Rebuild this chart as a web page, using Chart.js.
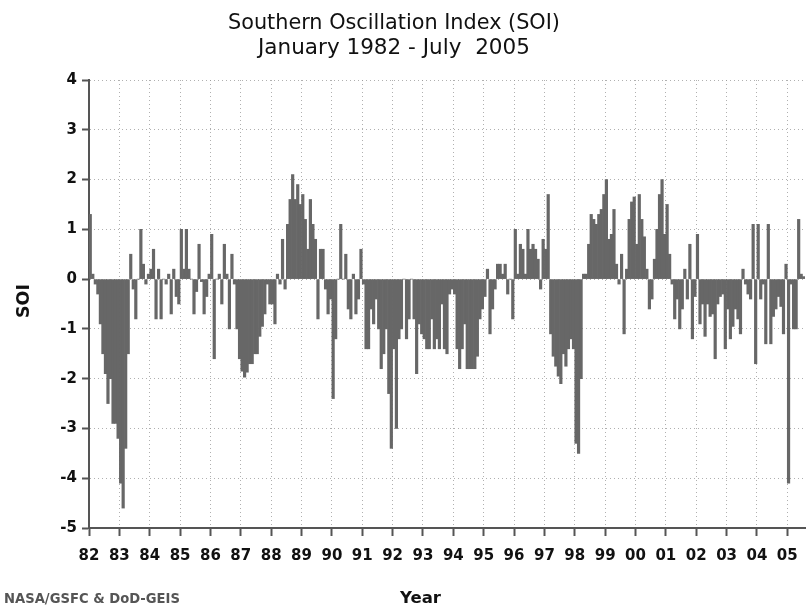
<!DOCTYPE html>
<html><head><meta charset="utf-8">
<script src="https://cdn.jsdelivr.net/npm/chart.js@4.4.1/dist/chart.umd.min.js"></script>
<style>html,body{margin:0;padding:0;background:#fff;}#wrap{width:806px;height:606px;position:relative;}</style>
</head><body><div id="wrap"><canvas id="c" width="806" height="606"></canvas></div>
<script>
const titleLines = ['Southern Oscillation Index (SOI)', 'January 1982 - July  2005'];
const yAxisTitle = 'SOI';
const xAxisTitle = 'Year';
const sourceNote = 'NASA/GSFC & DoD-GEIS';
const yearLabels = ['82','83','84','85','86','87','88','89','90','91','92','93','94','95','96','97','98','99','00','01','02','03','04','05'];
const yTicks = [4,3,2,1,0,-1,-2,-3,-4,-5];

// Monthly SOI values (Jan 1982 - Jul 2005)
const soi1982 = [1.3, 0.1, -0.1, -0.3, -0.9, -1.5, -1.9, -2.5, -2.0, -2.9, -2.9, -3.2];
const soi1983 = [-4.1, -4.6, -3.4, -1.5, 0.5, -0.2, -0.8, 0.0, 1.0, 0.3, -0.1, 0.1];
const soi1984 = [0.2, 0.6, -0.8, 0.2, -0.8, 0.0, -0.1, 0.1, -0.7, 0.2, -0.35, -0.5];
const soi1985 = [1.0, 0.2, 1.0, 0.2, 0.0, -0.7, -0.25, 0.7, -0.05, -0.7, -0.35, 0.1];
const soi1986 = [0.9, -1.6, 0.0, 0.1, -0.5, 0.7, 0.1, -1.0, 0.5, -0.1, -1.0, -1.6];
const soi1987 = [-1.85, -1.97, -1.87, -1.7, -1.7, -1.5, -1.5, -1.15, -0.95, -0.7, -0.1, -0.5];
const soi1988 = [-0.5, -0.9, 0.1, -0.1, 0.8, -0.2, 1.1, 1.6, 2.1, 1.6, 1.9, 1.5];
const soi1989 = [1.7, 1.2, 0.6, 1.6, 1.1, 0.8, -0.8, 0.6, 0.6, -0.2, -0.7, -0.4];
const soi1990 = [-2.4, -1.2, 0.0, 1.1, 0.0, 0.5, -0.6, -0.8, 0.1, -0.7, -0.4, 0.6];
const soi1991 = [-0.1, -1.4, -1.4, -0.6, -0.9, -0.4, -1.0, -1.8, -1.5, -1.0, -2.3, -3.4];
const soi1992 = [-1.4, -3.0, -1.2, -1.0, 0.0, -1.2, -0.8, 0.0, -0.8, -1.9, -0.9, -1.1];
const soi1993 = [-1.2, -1.4, -1.4, -0.8, -1.4, -1.2, -1.4, -0.5, -1.4, -1.5, -0.3, -0.2];
const soi1994 = [-0.3, -1.4, -1.8, -1.4, -0.9, -1.8, -1.8, -1.8, -1.8, -1.55, -0.8, -0.6];
const soi1995 = [-0.35, 0.2, -1.1, -0.6, -0.2, 0.3, 0.3, 0.1, 0.3, -0.3, 0.0, -0.8];
const soi1996 = [1.0, 0.1, 0.7, 0.6, 0.1, 1.0, 0.6, 0.7, 0.6, 0.4, -0.2, 0.8];
const soi1997 = [0.6, 1.7, -1.1, -1.55, -1.75, -1.95, -2.1, -1.5, -1.75, -1.4, -1.2, -1.4];
const soi1998 = [-3.3, -3.5, -2.0, 0.1, 0.1, 0.7, 1.3, 1.2, 1.1, 1.3, 1.4, 1.7];
const soi1999 = [2.0, 0.8, 0.9, 1.4, 0.3, -0.1, 0.5, -1.1, 0.2, 1.2, 1.55, 1.65];
const soi2000 = [0.7, 1.7, 1.2, 0.85, 0.2, -0.6, -0.4, 0.4, 1.0, 1.7, 2.0, 0.9];
const soi2001 = [1.5, 0.5, -0.1, -0.8, -0.4, -1.0, -0.6, 0.2, -0.4, 0.7, -1.2, -0.35];
const soi2002 = [0.9, -0.9, -0.5, -1.15, -0.5, -0.75, -0.7, -1.6, -0.5, -0.35, -0.3, -1.4];
const soi2003 = [-0.6, -1.2, -0.95, -0.6, -0.8, -1.1, 0.2, -0.1, -0.3, -0.4, 1.1, -1.7];
const soi2004 = [1.1, -0.4, -0.1, -1.3, 1.1, -1.3, -0.75, -0.6, -0.35, -0.55, -1.1, 0.3];
const soi2005 = [-4.1, -0.1, -1.0, -1.0, 1.2, 0.1, 0.05];

const soiByYear = [soi1982, soi1983, soi1984, soi1985, soi1986, soi1987, soi1988, soi1989,
  soi1990, soi1991, soi1992, soi1993, soi1994, soi1995, soi1996, soi1997, soi1998, soi1999,
  soi2000, soi2001, soi2002, soi2003, soi2004, soi2005];
const soiMonthly = [].concat(...soiByYear);
const points = soiMonthly.map((v, i) => ({ x: i + 0.5, y: v }));

const FONT_TEXT = '"DejaVu Sans", sans-serif';
const FONT_TICK = '"DejaVu Sans", sans-serif';

function fitFont(ctx, text, weight, family, targetWidth) {
  ctx.font = weight + ' 100px ' + family;
  const w = ctx.measureText(text).width;
  return weight + ' ' + (100 * targetWidth / w).toFixed(2) + 'px ' + family;
}

const textPlugin = {
  id: 'texts',
  afterDraw(chart) {
    const ctx = chart.ctx;
    ctx.save();
    ctx.textBaseline = 'alphabetic';
    ctx.textAlign = 'left';
    ctx.fillStyle = '#111';
    ctx.font = fitFont(ctx, titleLines[0], 'normal', FONT_TEXT, 332);
    ctx.fillText(titleLines[0], 228, 29);
    ctx.font = fitFont(ctx, titleLines[1], 'normal', FONT_TEXT, 272);
    ctx.fillText(titleLines[1], 258, 54);
    ctx.font = fitFont(ctx, xAxisTitle, 'bold', FONT_TEXT, 41);
    ctx.fillText(xAxisTitle, 400, 603);
    ctx.fillStyle = '#555';
    ctx.font = fitFont(ctx, sourceNote, 'bold', FONT_TEXT, 176);
    ctx.fillText(sourceNote, 4, 603);
    ctx.fillStyle = '#111';
    ctx.translate(29, 318);
    ctx.rotate(-Math.PI / 2);
    ctx.font = fitFont(ctx, yAxisTitle, 'bold', FONT_TEXT, 34);
    ctx.fillText(yAxisTitle, 0, 0);
    ctx.restore();
  }
};

const PLOT_TOP = 80, PLOT_BOTTOM = 528, PLOT_LEFT = 89, PLOT_RIGHT = 805;

new Chart(document.getElementById('c'), {
  type: 'bar',
  data: {
    datasets: [{
      data: points,
      backgroundColor: '#676767',
      borderWidth: 0,
      barPercentage: 1,
      categoryPercentage: 1
    }]
  },
  options: {
    responsive: false,
    animation: false,
    devicePixelRatio: 1,
    layout: { padding: { top: PLOT_TOP, right: 806 - PLOT_RIGHT, left: 0, bottom: 0 } },
    plugins: { legend: { display: false }, title: { display: false }, tooltip: { enabled: false } },
    scales: {
      x: {
        type: 'linear',
        offset: false,
        z: 1,
        min: 0,
        max: soiMonthly.length,
        afterFit(s) { s.height = 606 - PLOT_BOTTOM; s.paddingLeft = 0; s.paddingRight = 0; },
        afterBuildTicks(s) { s.ticks = yearLabels.map((_, i) => ({ value: i * 12 })); },
        ticks: {
          autoSkip: false, maxRotation: 0, padding: 11,
          color: '#111',
          font: { family: FONT_TICK, weight: 'bold', size: 15 },
          callback: (v, i) => yearLabels[i]
        },
        grid: { offset: false, color: 'rgba(150,150,150,0.75)', lineWidth: 1, tickLength: 8, tickColor: '#555', tickWidth: 2, tickBorderDash: [] },
        border: { color: '#555', width: 2, dash: [1, 3] }
      },
      y: {
        min: -5, max: 4,
        z: 1,
        afterFit(s) { s.width = PLOT_LEFT; },
        afterBuildTicks(s) { s.ticks = yTicks.map(v => ({ value: v })); },
        ticks: {
          padding: 5, color: '#111',
          font: { family: FONT_TICK, weight: 'bold', size: 15 },
          callback: (v) => String(v)
        },
        grid: { color: 'rgba(150,150,150,0.75)', lineWidth: 1, tickLength: 7, tickColor: '#555', tickWidth: 2, tickBorderDash: [] },
        border: { color: '#555', width: 2, dash: [1, 3] }
      }
    }
  },
  plugins: [textPlugin]
});
</script>
</body></html>
